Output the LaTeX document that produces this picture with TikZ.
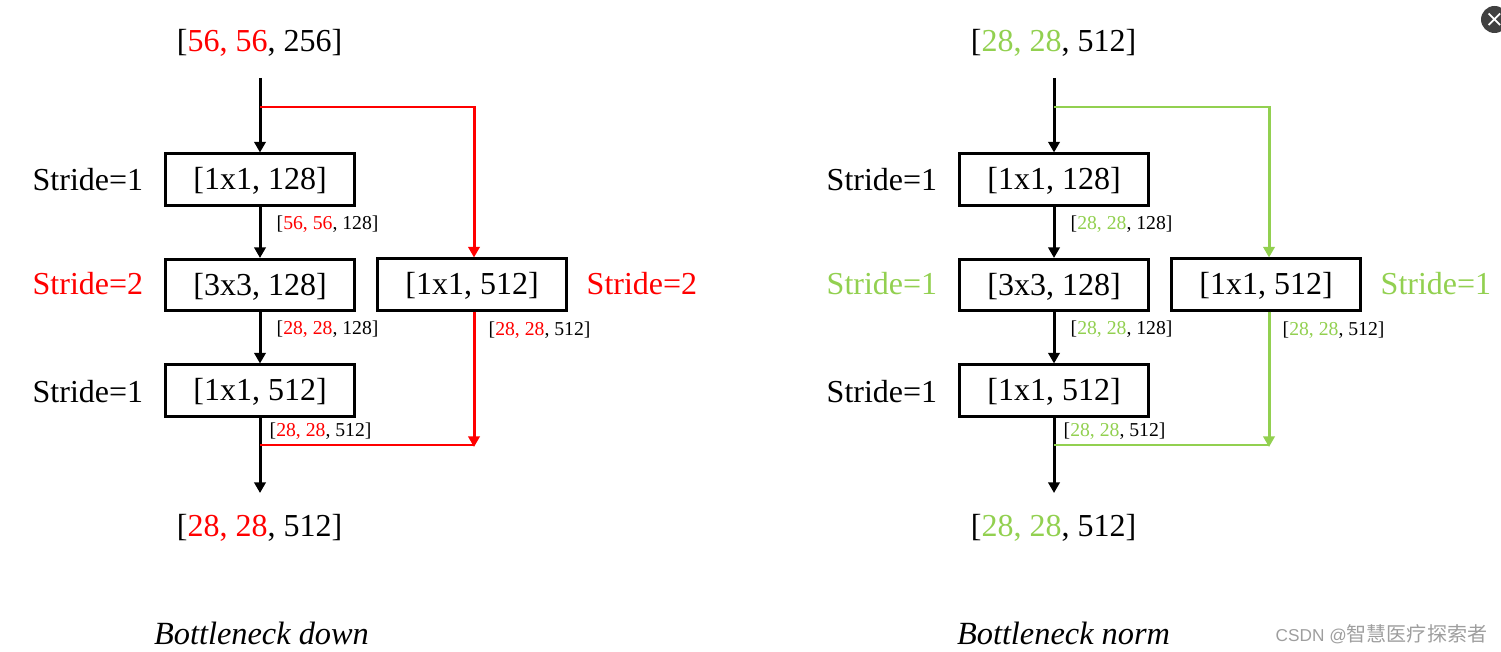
\documentclass[tikz,border=0pt]{standalone}
\usepackage{fontspec}
\setmainfont{Liberation Serif}
\newfontfamily\markfont{Noto Sans CJK SC}
\newfontfamily\marklatin{Liberation Sans}
\usetikzlibrary{arrows.meta}
\definecolor{normgreen}{HTML}{92D050}
\newcommand{\rd}[1]{\textcolor{red}{#1}}
\newcommand{\gn}[1]{\textcolor{normgreen}{#1}}

\begin{document}
\begin{tikzpicture}[
  x=0.01cm, y=-0.01cm,
  conv/.style={
    rectangle,
    draw,
    line width=0.85pt,
    minimum width=1.89cm,
    minimum height=0.51cm,
    inner sep=0pt,
    text height=7.5pt,
    text depth=1.6pt,
    font=\fontsize{9.1pt}{11pt}\selectfont
  },
  shapelbl/.style={inner sep=0pt, font=\fontsize{9.1pt}{11pt}\selectfont},
  stridelbl/.style={anchor=west, inner sep=0pt, font=\fontsize{9.1pt}{11pt}\selectfont},
  smalllbl/.style={anchor=west, inner sep=0pt, font=\fontsize{5.6pt}{7pt}\selectfont},
  captionlbl/.style={inner sep=0pt, font=\fontsize{9.2pt}{11pt}\selectfont\itshape},
  flow/.style={line width=0.85pt, -{Triangle[width=3.2pt,length=3pt]}},
  branch/.style={line width=0.85pt}
]
  \useasboundingbox (0,0) rectangle (1501,652);

  \node[shapelbl] (downin) at (259.5,43) {[\rd{56, 56}, 256]};
  \coordinate (downstart) at (260,78);
  \coordinate (downtap) at (260,107);
  \node[conv] (downa) at (260,179.5) {[1x1, 128]};
  \node[conv] (downb) at (260,285) {[3x3, 128]};
  \node[conv] (downc) at (260,390.5) {[1x1, 512]};
  \node[conv] (downside) at (472,284.5) {[1x1, 512]};
  \coordinate (downturn) at (474,107);
  \coordinate (downmerge) at (260,445);
  \coordinate (downjoin) at (474,447);
  \coordinate (downend) at (260,493);
  \node[shapelbl] (downout) at (259.5,528) {[\rd{28, 28}, 512]};
  \node[stridelbl] (downsa) at (32,180) {Stride=1};
  \node[stridelbl] (downsb) at (32,284) {\rd{Stride=2}};
  \node[stridelbl] (downsc) at (32,392) {Stride=1};
  \node[stridelbl] (downsd) at (586,284) {\rd{Stride=2}};
  \node[smalllbl] (downla) at (276,224) {[\rd{56, 56}, 128]};
  \node[smalllbl] (downlb) at (276,329) {[\rd{28, 28}, 128]};
  \node[smalllbl] (downlc) at (269,431) {[\rd{28, 28}, 512]};
  \node[smalllbl] (downld) at (488,330) {[\rd{28, 28}, 512]};
  \node[captionlbl] (downname) at (261.5,633) {Bottleneck down};

  \draw[flow] (downstart) -- (downa);
  \draw[flow] (downa) -- (downb);
  \draw[flow] (downb) -- (downc);
  \draw[flow] (downc) -- (downend);
  \draw[branch,red,-{Triangle[width=3.2pt,length=3pt]}] (downtap) -- (downturn) -- (downturn |- downside.north);
  \draw[branch,red,-{Triangle[width=3.2pt,length=3pt]}] (downturn |- downside.south) -- (downjoin);
  \draw[branch,red] (downmerge) -- (downmerge -| downjoin);

  \node[shapelbl] (normin) at (1053.5,43) {[\gn{28, 28}, 512]};
  \coordinate (normstart) at (1054,78);
  \coordinate (normtap) at (1054,107);
  \node[conv] (norma) at (1054,179.5) {[1x1, 128]};
  \node[conv] (normb) at (1054,285) {[3x3, 128]};
  \node[conv] (normc) at (1054,390.5) {[1x1, 512]};
  \node[conv] (normside) at (1266,284.5) {[1x1, 512]};
  \coordinate (normturn) at (1269,107);
  \coordinate (normmerge) at (1054,445);
  \coordinate (normjoin) at (1269,447);
  \coordinate (normend) at (1054,493);
  \node[shapelbl] (normout) at (1053.5,528) {[\gn{28, 28}, 512]};
  \node[stridelbl] (normsa) at (826,180) {Stride=1};
  \node[stridelbl] (normsb) at (826,284) {\gn{Stride=1}};
  \node[stridelbl] (normsc) at (826,392) {Stride=1};
  \node[stridelbl] (normsd) at (1380,284) {\gn{Stride=1}};
  \node[smalllbl] (normla) at (1070,224) {[\gn{28, 28}, 128]};
  \node[smalllbl] (normlb) at (1070,329) {[\gn{28, 28}, 128]};
  \node[smalllbl] (normlc) at (1063,431) {[\gn{28, 28}, 512]};
  \node[smalllbl] (normld) at (1282,330) {[\gn{28, 28}, 512]};
  \node[captionlbl] (normname) at (1063.5,633) {Bottleneck norm};

  \draw[flow] (normstart) -- (norma);
  \draw[flow] (norma) -- (normb);
  \draw[flow] (normb) -- (normc);
  \draw[flow] (normc) -- (normend);
  \draw[branch,normgreen,-{Triangle[width=3.2pt,length=3pt]}] (normtap) -- (normturn) -- (normturn |- normside.north);
  \draw[branch,normgreen,-{Triangle[width=3.2pt,length=3pt]}] (normturn |- normside.south) -- (normjoin);
  \draw[branch,normgreen] (normmerge) -- (normmerge -| normjoin);

  \node[anchor=west, inner sep=0pt, text=black!38] (mark) at (1275,634) {\marklatin\fontsize{4.9pt}{7pt}\selectfont CSDN @\markfont\fontsize{5.7pt}{7pt}\selectfont 智慧医疗探索者};

  \clip (0,0) rectangle (1501,652);
  \fill[black!75] (1494.5,19.5) circle (13.5);
  \draw[white, line width=0.5pt] (1488.5,13.5) -- (1500,25) (1488.5,25) -- (1500,13.5);
\end{tikzpicture}
\end{document}
